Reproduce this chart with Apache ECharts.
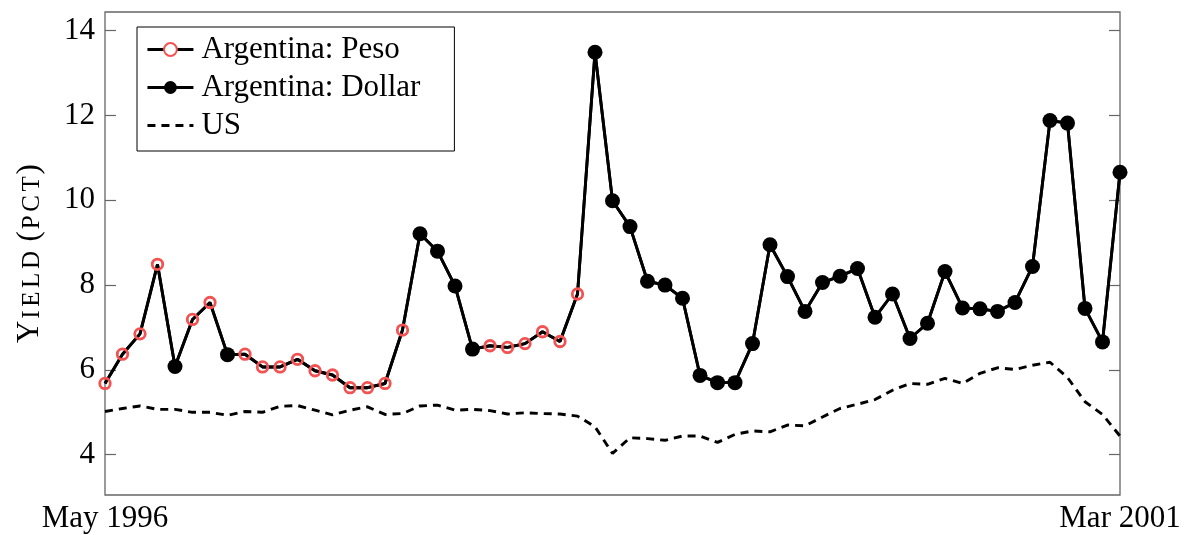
<!DOCTYPE html>
<html>
<head>
<meta charset="utf-8">
<script src="https://cdn.jsdelivr.net/npm/echarts@6/dist/echarts.min.js"></script>
<style>
  html, body { margin: 0; padding: 0; background: #fff; }
  #chart { width: 1184px; height: 535px; }
</style>
</head>
<body>
<div id="chart"></div>
<script>
// Monthly yields, May 1996 – Mar 2001 (percent)
const startYear = 1996;
const startMonth = 4; // May (0-based)
const monthCount = 59;

// Argentine bond yield, one value per month
const argYield = [
  5.68, 6.37, 6.85, 8.49, 6.08, 7.19, 7.59, 6.36, 6.37, 6.07,
  6.07, 6.25, 5.98, 5.88, 5.58, 5.58, 5.68, 6.94, 9.21, 8.80,
  7.98, 6.49, 6.57, 6.53, 6.62, 6.90, 6.67, 7.79, 13.49, 9.99,
  9.38, 8.09, 8.00, 7.69, 5.87, 5.70, 5.70, 6.62, 8.95, 8.20,
  7.38, 8.06, 8.21, 8.39, 7.24, 7.79, 6.74, 7.10, 8.32, 7.46,
  7.44, 7.38, 7.59, 8.44, 11.88, 11.82, 7.45, 6.66, 10.66
];

// Currency of the Argentine bond quoted each month: P = peso, D = dollar
const argCurrency = [
  'P', 'P', 'P', 'P', 'D', 'P', 'P', 'D', 'P', 'P',
  'P', 'P', 'P', 'P', 'P', 'P', 'P', 'P', 'D', 'D',
  'D', 'D', 'P', 'P', 'P', 'P', 'P', 'P', 'D', 'D',
  'D', 'D', 'D', 'D', 'D', 'D', 'D', 'D', 'D', 'D',
  'D', 'D', 'D', 'D', 'D', 'D', 'D', 'D', 'D', 'D',
  'D', 'D', 'D', 'D', 'D', 'D', 'D', 'D', 'D'
];

// US yield, one value per month
const usYield = [
  5.02, 5.09, 5.15, 5.07, 5.07, 5.00, 5.00, 4.93, 5.02, 5.00,
  5.14, 5.16, 5.05, 4.94, 5.05, 5.13, 4.95, 4.97, 5.15, 5.17,
  5.05, 5.07, 5.04, 4.96, 4.99, 4.97, 4.96, 4.91, 4.66, 4.03,
  4.40, 4.38, 4.34, 4.44, 4.44, 4.29, 4.48, 4.56, 4.54, 4.70,
  4.68, 4.89, 5.09, 5.19, 5.30, 5.52, 5.68, 5.66, 5.80, 5.68,
  5.92, 6.05, 6.01, 6.11, 6.18, 5.82, 5.25, 4.95, 4.44
];

const yTicks = [4, 6, 8, 10, 12, 14];
const yRange = [3.05, 14.44];

const monthNames = ['Jan', 'Feb', 'Mar', 'Apr', 'May', 'Jun', 'Jul', 'Aug', 'Sep', 'Oct', 'Nov', 'Dec'];
const months = [];
for (let i = 0; i < monthCount; i++) {
  const m = startMonth + i;
  months.push(monthNames[m % 12] + ' ' + (startYear + Math.floor(m / 12)));
}

const FONT = '"Liberation Serif", "Times New Roman", serif';
const FRAME = '#666';
const PESO_RED = '#f25252';
const LINE_W = 2.9;

// Both Argentine series share the full line; each shows only its own markers
const pesoData = argYield.map((v, i) => argCurrency[i] === 'P' ? v : { value: v, symbol: 'none' });
const dollarData = argYield.map((v, i) => argCurrency[i] === 'D' ? v : { value: v, symbol: 'none' });

const chart = echarts.init(document.getElementById('chart'), null, { renderer: 'canvas' });

// Small-caps axis title: full-size capitals plus smaller, slightly spaced capitals
const sc = { fontSize: 25, fontFamily: FONT, color: '#000', verticalAlign: 'bottom', lineHeight: 32, padding: [0, 1.8] };
const big = { fontSize: 31, fontFamily: FONT, color: '#000', verticalAlign: 'bottom', lineHeight: 32 };

chart.setOption({
  animation: false,
  backgroundColor: '#fff',
  grid: {
    left: 105, right: 64, top: 12, bottom: 40,
    show: true, borderColor: FRAME, borderWidth: 1.3, backgroundColor: 'transparent'
  },
  legend: {
    orient: 'vertical',
    left: 137, top: 27,
    padding: [7, 34, 10, 9],
    itemWidth: 46, itemHeight: 16, itemGap: 7,
    borderColor: '#000', borderWidth: 1,
    backgroundColor: '#fff',
    lineStyle: { width: LINE_W },
    textStyle: { fontSize: 31, lineHeight: 30, fontFamily: FONT, color: '#000', padding: [0, 0, 0, 3] },
    data: [
      { name: 'Argentina: Peso', itemStyle: { color: '#fff' } },
      { name: 'Argentina: Dollar' },
      { name: 'US', itemStyle: { opacity: 0 } }
    ]
  },
  xAxis: {
    type: 'category',
    data: months,
    boundaryGap: false,
    axisLine: { show: false },
    axisTick: { show: false },
    splitLine: { show: false },
    axisLabel: {
      interval: (i) => i === 0 || i === months.length - 1,
      fontSize: 31, fontFamily: FONT, color: '#000', margin: 8
    }
  },
  yAxis: [
    {
      type: 'value',
      min: yRange[0], max: yRange[1],
      axisLine: { show: false },
      splitLine: { show: false },
      axisTick: { show: true, inside: true, length: 11, customValues: yTicks, lineStyle: { color: FRAME, width: 1.2 } },
      axisLabel: { customValues: yTicks, fontSize: 31, fontFamily: FONT, color: '#000', margin: 10 },
      name: '{Y|Y}{s|I}{s|E}{s|L}{s|D}{g| }{p|(}{s|P}{s|C}{s|T}{p|)}',
      nameLocation: 'middle',
      nameRotate: 90,
      nameGap: 60,
      nameTextStyle: { fontFamily: FONT, rich: { Y: big, p: big, g: big, s: sc } }
    },
    {
      type: 'value',
      position: 'right',
      min: yRange[0], max: yRange[1],
      axisLine: { show: false },
      splitLine: { show: false },
      axisTick: { show: true, inside: true, length: 11, customValues: yTicks, lineStyle: { color: FRAME, width: 1.2 } },
      axisLabel: { show: false }
    }
  ],
  series: [
    {
      name: 'US',
      type: 'line',
      data: usYield,
      symbol: 'none',
      lineStyle: { color: '#000', width: LINE_W, type: [8, 6] },
      itemStyle: { color: '#000' },
      z: 2
    },
    {
      name: 'Argentina: Dollar',
      type: 'line',
      data: dollarData,
      symbol: 'circle',
      symbolSize: 15,
      showAllSymbol: true,
      itemStyle: { color: '#000' },
      lineStyle: { color: '#000', width: LINE_W },
      z: 3
    },
    {
      name: 'Argentina: Peso',
      type: 'line',
      data: pesoData,
      symbol: 'circle',
      symbolSize: 10.5,
      showAllSymbol: true,
      itemStyle: { color: 'rgba(0,0,0,0)', borderColor: PESO_RED, borderWidth: 2.8 },
      lineStyle: { color: '#000', width: LINE_W },
      z: 4
    }
  ]
});
</script>
</body>
</html>
